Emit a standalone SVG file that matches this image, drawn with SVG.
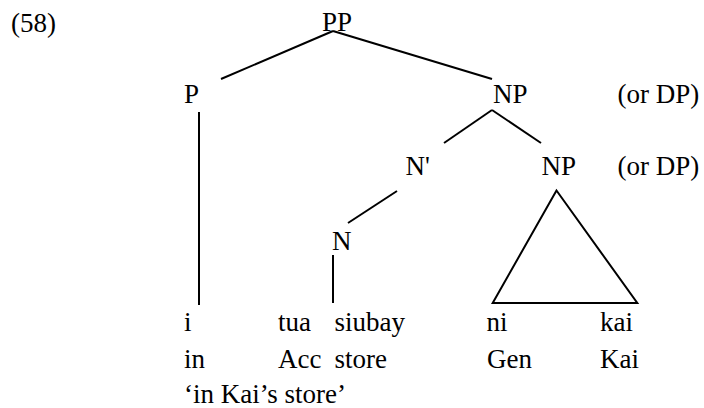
<svg xmlns="http://www.w3.org/2000/svg" width="704" height="408" viewBox="0 0 704 408">
<style>
text { font-family: 'Liberation Serif', Tinos, 'Times New Roman', Times, 'Nimbus Roman', 'DejaVu Serif', serif; font-size: 27px; fill: #000; }
.edge { stroke: #000; stroke-width: 2; fill: none; stroke-linecap: butt; }
</style>
<rect width="704" height="408" fill="#fff"/>
<text id="label-58" x="11" y="32">(58)</text>
<g id="connectors">
<line class="edge" x1="333" y1="31" x2="221" y2="79"/>
<line class="edge" x1="333" y1="31" x2="492" y2="79"/>
<line class="edge" x1="199" y1="112" x2="199" y2="305"/>
<line class="edge" x1="492" y1="110" x2="444" y2="143"/>
<line class="edge" x1="492" y1="110" x2="541" y2="143"/>
<line class="edge" x1="397" y1="191" x2="348" y2="223"/>
<line class="edge" x1="333" y1="255" x2="333" y2="303"/>
<polygon class="edge" points="556.5,190.5 492.7,303 637.3,303"/>
</g>
<g id="node-PP"><text x="322" y="30.5">PP</text></g>
<g id="node-P"><text x="184" y="103">P</text></g>
<g id="node-NP1"><text x="493" y="103">NP</text><text x="617.5" y="103">(or DP)</text></g>
<g id="node-Nbar"><text x="405.5" y="175">N'</text></g>
<g id="node-NP2"><text x="541.5" y="175">NP</text><text x="617.5" y="175">(or DP)</text></g>
<g id="node-N"><text x="332" y="249.5">N</text></g>
<g id="words">
<text x="184" y="331">i</text>
<text x="278" y="331">tua</text>
<text x="334.5" y="331">siubay</text>
<text x="486.5" y="331">ni</text>
<text x="600" y="331">kai</text>
<text x="184" y="367.5">in</text>
<text x="278" y="367.5">Acc</text>
<text x="334.5" y="367.5">store</text>
<text x="487" y="367.5">Gen</text>
<text x="600" y="367.5">Kai</text>
<text x="184" y="403">‘in Kai’s store’</text>
</g>
</svg>
